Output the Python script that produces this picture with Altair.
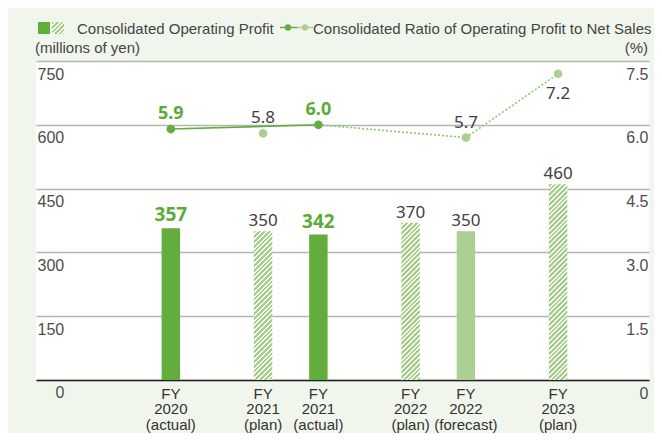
import altair as alt
import pandas as pd

# ---------------- data ----------------
categories = ["FY|2020|(actual)", "FY|2021|(plan)", "FY|2021|(actual)",
              "FY|2022|(plan)", "FY|2022|(forecast)", "FY|2023|(plan)"]
kinds = ["actual", "plan", "actual", "plan", "forecast", "plan"]
profit = [357, 350, 342, 370, 350, 460]            # millions of yen
ratio = [5.9, 5.8, 6.0, None, 5.7, 7.2]            # %
solid_segment = ["FY|2020|(actual)", "FY|2021|(actual)"]
dotted_segment = ["FY|2021|(actual)", "FY|2022|(forecast)", "FY|2023|(plan)"]

left_ticks = [0, 150, 300, 450, 600, 750]
right_ticks = [0, 1.5, 3.0, 4.5, 6.0, 7.5]

legend_bar_text = "Consolidated Operating Profit"
legend_line_text = "Consolidated Ratio of Operating Profit to Net Sales"
left_unit = "(millions of yen)"
right_unit = "(%)"

# ---------------- style ----------------
W, H = 613, 319
DARK = "#63ad3d"
LIGHT = "#abd092"
HATCH = "#a3ce86"
DOTTED = "#8cc66a"
GREEN_TXT = "#5cab37"
GRAY_TXT = "#3f3f3f"
BG = "#f1f6ed"
TICK_TXT = "#4d4d4d"

df = pd.DataFrame({"cat": categories, "kind": kinds, "profit": profit,
                   "ratio": ratio, "idx": list(range(len(categories)))})

# band layout with blank spacer slots to reproduce the uneven grouping
slot_pos = [6, 11, 14, 19, 22, 27]
n_slots = 32
domain = []
for i in range(n_slots):
    domain.append(categories[slot_pos.index(i)] if i in slot_pos else f"_{i}")
pad_outer = 0.62
step = W / (n_slots + 2 * pad_outer)

xscale = alt.Scale(domain=domain, paddingInner=0, paddingOuter=pad_outer, align=0.655)
x_axis = alt.Axis(title=None, ticks=False, domain=True, domainColor="#222222", domainWidth=1.5,
                  grid=False, labelAngle=0, labelOverlap=False,
                  labelExpr="indexof(datum.value, '_') == 0 ? '' : split(datum.value, '|')",
                  labelFont="Liberation Sans", labelFontSize=15, labelColor="#333333",
                  labelLineHeight=15.5, labelPadding=6, labelBaseline="top")
X = alt.X("cat:N", scale=xscale, axis=x_axis)

left_axis = alt.Axis(title=None, orient="left", values=left_ticks, grid=True,
                     gridColor="#b4b4b4", gridWidth=1.4, ticks=False, domain=False,
                     labelAlign="left", labelBaseline="top", labelOffset=5, labelPadding=-1,
                     labelExpr="datum.value == 0 ? '' : datum.label",
                     labelFont="Liberation Sans", labelFontSize=16, labelColor=TICK_TXT)
right_axis = alt.Axis(title=None, orient="right", values=right_ticks, grid=False,
                      ticks=False, domain=False, labelAlign="right", labelBaseline="top",
                      labelOffset=5, labelPadding=-1,
                      labelExpr="datum.value == 0 ? '0' : format(datum.value, '.1f')",
                      labelFont="Liberation Sans", labelFontSize=16, labelColor=TICK_TXT)

yscale_l = alt.Scale(domain=[0, 750])
yscale_r = alt.Scale(domain=[0, 7.5])


def hatch(h, w, period=4.8, frac=0.58):
    denom = w * w + h * h
    tmax = (w + h) * w / denom
    pt = period * w / denom
    stops = []
    t = 0.0
    while t < tmax + pt:
        a, b, c = t, min(t + frac * pt, 1), min(t + pt, 1)
        stops += [(a, HATCH), (b, HATCH), (b, "#ffffff"), (c, "#ffffff")]
        t += pt
        if c >= 1:
            break
    if stops[-1][0] < 1:
        stops.append((1, "#ffffff"))
    return alt.LinearGradient(gradient="linear",
                              stops=[alt.GradientStop(offset=o, color=col) for o, col in stops],
                              x1=0, y1=0, x2=1, y2=h / w)


base = alt.Chart(df)
YL = alt.Y("profit:Q", scale=yscale_l, axis=left_axis)

solid_bars = base.transform_filter("datum.kind != 'plan'").mark_bar().encode(
    x=X, y=YL,
    color=alt.Color("kind:N", scale=alt.Scale(domain=["actual", "forecast"], range=[DARK, LIGHT]),
                    legend=None),
)
hatched = []
for c, k, v in zip(categories, kinds, profit):
    if k == "plan":
        hatched.append(
            base.transform_filter(alt.datum.cat == c)
            .mark_bar(fill=hatch(v * H / 750, step))
            .encode(x=X, y=YL)
        )

bar_lbl_act = base.transform_filter("datum.kind == 'actual'").mark_text(
    font="Noto Sans", fontSize=19, fontWeight="bold", color=GREEN_TXT, dy=-7, baseline="alphabetic"
).encode(x=X, y=YL, text="profit:Q")
bar_lbl_oth = base.transform_filter("datum.kind != 'actual'").mark_text(
    font="Noto Sans", fontSize=17, color=GRAY_TXT, dy=-5, baseline="alphabetic"
).encode(x=X, y=YL, text="profit:Q")

bars_group = alt.layer(solid_bars, *hatched, bar_lbl_act, bar_lbl_oth)

rbase = base.transform_filter("isValid(datum.ratio)")
Yr = alt.Y("ratio:Q", scale=yscale_r, axis=right_axis)

solid_line = rbase.transform_filter(alt.FieldOneOfPredicate(field="cat", oneOf=solid_segment)).mark_line(
    color=DARK, strokeWidth=1.6).encode(x=X, y=Yr, order="idx:Q")
dotted_line = rbase.transform_filter(alt.FieldOneOfPredicate(field="cat", oneOf=dotted_segment)).mark_line(
    color=DOTTED, strokeWidth=1.6, strokeDash=[2, 2]).encode(x=X, y=Yr, order="idx:Q")
points = rbase.mark_circle(size=75, opacity=1).encode(
    x=X, y=Yr,
    color=alt.Color("kind:N", scale=alt.Scale(domain=["actual", "plan", "forecast"],
                                              range=[DARK, LIGHT, LIGHT]), legend=None))
r_lbl_act = rbase.transform_filter("datum.kind == 'actual'").mark_text(
    font="Noto Sans", fontSize=18, fontWeight="bold", color=GREEN_TXT, dy=-10, baseline="alphabetic"
).encode(x=X, y=Yr, text=alt.Text("ratio:Q", format=".1f"))
r_lbl_up = rbase.transform_filter(
    (alt.datum.kind != "actual") & (alt.datum.cat != categories[-1])).mark_text(
    font="Noto Sans", fontSize=17, color=GRAY_TXT, dy=-10, baseline="alphabetic"
).encode(x=X, y=Yr, text=alt.Text("ratio:Q", format=".1f"))
r_lbl_down = rbase.transform_filter(alt.datum.cat == categories[-1]).mark_text(
    font="Noto Sans", fontSize=17, color=GRAY_TXT, dy=25, baseline="alphabetic"
).encode(x=X, y=Yr, text=alt.Text("ratio:Q", format=".1f"))

ratio_group = alt.layer(solid_line, dotted_line, points, r_lbl_act, r_lbl_up, r_lbl_down)

# ---------------- custom legend / unit labels ----------------
one = alt.Chart(alt.Data(values=[{"k": 1}]))
lg_dark = one.mark_rect(color=DARK).encode(x=alt.value(2), x2=alt.value(14), y=alt.value(-39), y2=alt.value(-27))
lg_hatch = one.mark_rect(fill=hatch(12, 12, period=4.5)).encode(
    x=alt.value(16), x2=alt.value(28), y=alt.value(-39), y2=alt.value(-27))
txt_style = dict(font="Liberation Sans", fontSize=15, color="#444444", baseline="alphabetic")
lg_txt1 = one.mark_text(align="left", **txt_style).encode(
    x=alt.value(41), y=alt.value(-27), text=alt.value(legend_bar_text))
lg_l1 = one.mark_rule(color=DARK, strokeWidth=1.5).encode(
    x=alt.value(244), x2=alt.value(261), y=alt.value(-33.5))
lg_l2 = one.mark_rule(color=LIGHT, strokeWidth=1.5).encode(
    x=alt.value(261), x2=alt.value(277), y=alt.value(-33.5))
lg_p1 = one.mark_circle(color=DARK, size=40, opacity=1).encode(x=alt.value(252), y=alt.value(-33.5))
lg_p2 = one.mark_circle(color=LIGHT, size=40, opacity=1).encode(x=alt.value(269), y=alt.value(-33.5))
lg_txt2 = one.mark_text(align="left", **txt_style).encode(
    x=alt.value(277), y=alt.value(-27), text=alt.value(legend_line_text))
unit_l = one.mark_text(align="left", **txt_style).encode(
    x=alt.value(-1), y=alt.value(-8), text=alt.value(left_unit))
unit_r = one.mark_text(align="right", **txt_style).encode(
    x=alt.value(612), y=alt.value(-8), text=alt.value(right_unit))
# left-axis zero label sits below the baseline, away from the other tick labels
zero_l = one.mark_text(align="center", baseline="top", font="Liberation Sans", fontSize=16,
                       color=TICK_TXT).encode(x=alt.value(24), y=alt.value(H + 5), text=alt.value("0"))
legend_group = alt.layer(lg_dark, lg_hatch, lg_txt1, lg_l1, lg_l2, lg_p1, lg_p2, lg_txt2,
                         unit_l, unit_r, zero_l)

chart = (
    alt.layer(bars_group, ratio_group, legend_group)
    .resolve_scale(y="independent", color="independent")
    .properties(width=W, height=H, background=BG,
                padding={"left": 28, "top": 53, "right": 5, "bottom": 53},
                autosize=alt.AutoSizeParams(type="none"))
    .configure_view(stroke=None, fill="white")
)

chart.save("out.html", embed_options={"renderer": "svg", "actions": False})
